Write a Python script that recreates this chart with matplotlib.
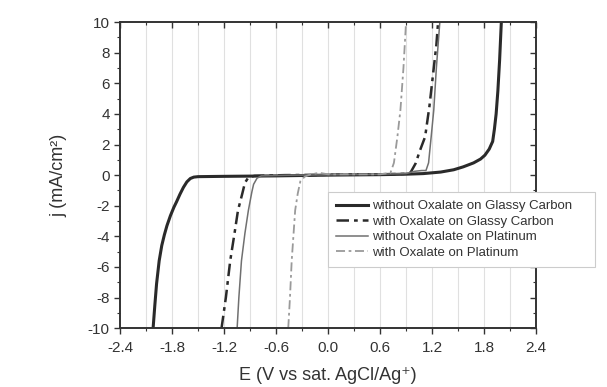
import numpy as np
import matplotlib.pyplot as plt
from matplotlib.ticker import MultipleLocator

# values
E_gc = [-2.02, -2.00, -1.98, -1.95, -1.92, -1.89, -1.86, -1.82, -1.78, -1.75, -1.71, -1.67, -1.63,
        -1.59, -1.55, -1.50, -1.2, -0.6, 0.0,
        0.6, 0.9, 1.1, 1.3, 1.45, 1.56, 1.68, 1.76, 1.81, 1.86, 1.90, 1.92, 1.94, 1.96, 1.98, 2.0]
j_gc = [-10, -8.5, -7.1, -5.6, -4.6, -3.9, -3.3, -2.65, -2.1, -1.75, -1.25, -0.8, -0.44,
        -0.22, -0.13, -0.1, -0.08, -0.05, 0.0,
        0.03, 0.06, 0.1, 0.2, 0.35, 0.54, 0.8, 1.05, 1.3, 1.7, 2.2, 3.0, 4.0, 5.5, 7.5, 10]

E_gc_ox = [-1.23, -1.18, -1.13, -1.08, -1.04, -0.99, -0.96, -0.92, -0.85, -0.5, 0.0, 0.5,
           0.9, 0.95, 1.01, 1.06, 1.12, 1.17, 1.21, 1.25, 1.27]
j_gc_ox = [-10, -8.0, -5.6, -3.8, -2.3, -1.2, -0.5, -0.15, -0.05, 0.0, 0.02, 0.05,
           0.08, 0.15, 0.76, 1.6, 2.5, 4.5, 6.5, 8.5, 10]

E_pt = [-1.05, -1.03, -1.00, -0.96, -0.92, -0.88, -0.86, -0.82, -0.77, -0.4, 0.0, 0.5,
        0.9, 1.0, 1.08, 1.13, 1.16, 1.19, 1.22, 1.25, 1.29]
j_pt = [-10, -8.0, -5.6, -3.8, -2.3, -1.1, -0.6, -0.2, -0.05, 0.0, 0.02, 0.05,
        0.1, 0.25, 0.3, 0.3, 0.8, 2.5, 4.25, 7.0, 10]

E_pt_ox = [-0.46, -0.44, -0.42, -0.38, -0.35, -0.32, -0.27, -0.2, -0.1, 0.0, 0.3, 0.6,
           0.72, 0.76, 0.80, 0.835, 0.87, 0.90]
j_pt_ox = [-10, -8.0, -5.6, -2.3, -1.2, -0.4, -0.1, 0.05, 0.15, 0.05, 0.05, 0.05,
           0.15, 0.8, 2.5, 4.25, 7.0, 10]

labels = ["without Oxalate on Glassy Carbon", "with Oxalate on Glassy Carbon",
          "without Oxalate on Platinum", "with Oxalate on Platinum"]

if __name__ == '__main__':
    plt.rcParams['font.family'] = ['Liberation Sans', 'DejaVu Sans']
    plt.rcParams['axes.unicode_minus'] = False
    fig = plt.figure(figsize=(6.07, 3.87), dpi=100)
    ax = fig.add_axes([0.198, 0.152, 0.685, 0.791])

    # vertical grid every 0.3 V
    for xg in np.arange(-2.1, 2.4, 0.3):
        ax.axvline(xg, color='#e0e0e0', lw=0.8, zorder=0)

    ax.plot(E_gc, j_gc, color='#2a2a2a', lw=2.2, ls='-', label=labels[0])
    ax.plot(E_gc_ox, j_gc_ox, color='#2a2a2a', lw=1.8, ls=(0, (5, 2, 1.5, 2)), label=labels[1])
    ax.plot(E_pt, j_pt, color='#707070', lw=1.1, ls='-', label=labels[2])
    ax.plot(E_pt_ox, j_pt_ox, color='#9a9a9a', lw=1.3, ls=(0, (5, 2, 1.5, 2)), label=labels[3])

    ax.set_xlim(-2.4, 2.4)
    ax.set_ylim(-10, 10)
    ax.xaxis.set_minor_locator(MultipleLocator(0.3))
    ax.yaxis.set_major_locator(MultipleLocator(2))
    ax.yaxis.set_minor_locator(MultipleLocator(1))
    ax.set_xticks(np.arange(-2.4, 2.41, 0.6))
    ax.set_xticklabels(["%.1f" % v for v in np.arange(-2.4, 2.41, 0.6)])

    ax.tick_params(which='both', bottom=True, left=True, top=True, right=True,
                   labeltop=False, labelright=False, color='#333333', direction='out')
    ax.tick_params(which='major', length=4, width=1.0, labelsize=11, labelcolor='#333333')
    ax.tick_params(axis='x', which='major', pad=5)
    ax.tick_params(which='minor', length=2.5, width=0.8)
    # top and right ticks point inward
    for t in ax.xaxis.get_major_ticks() + ax.xaxis.get_minor_ticks():
        t.tick2line.set_marker(3)
    for t in ax.yaxis.get_major_ticks() + ax.yaxis.get_minor_ticks():
        t.tick2line.set_marker(0)

    for sp in ax.spines.values():
        sp.set_color('#333333')
        sp.set_linewidth(1.4)

    ax.set_xlabel("E (V vs sat. AgCl/Ag⁺)", fontsize=13, color='#333333', labelpad=9)
    ax.set_ylabel("j (mA/cm²)", fontsize=13, color='#333333', labelpad=15)

    # legend box sticks out past the right spine, as in the original
    leg = ax.legend(loc='upper left', bbox_to_anchor=(0.5, 0.2, 0.642, 0.244), mode='expand',
                    borderaxespad=0, fontsize=9.5, frameon=True, fancybox=False,
                    edgecolor='#cccccc', framealpha=1, handlelength=2.4, handletextpad=0.3,
                    labelspacing=0.24, borderpad=0.6)
    leg.get_frame().set_linewidth(0.8)
    for txt in leg.get_texts():
        txt.set_color('#333333')

    fig.savefig("out.png", dpi=100)
